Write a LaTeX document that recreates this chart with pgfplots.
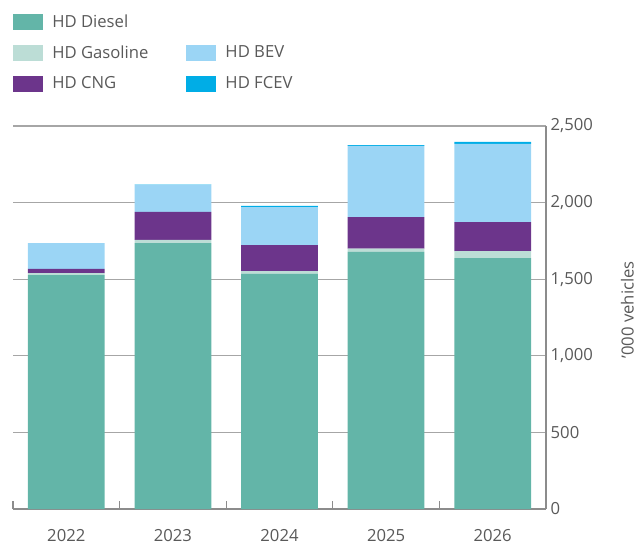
\documentclass[border=0pt]{standalone}
\usepackage{pgfplots}
\pgfplotsset{compat=1.18}
\usepackage{pgfplotstable}
\usepackage{fontspec}
\setmainfont{Open Sans}
\definecolor{diesel}{HTML}{63B5A8}
\definecolor{gasoline}{HTML}{BCDDD6}
\definecolor{cng}{HTML}{6C358B}
\definecolor{bev}{HTML}{9BD5F5}
\definecolor{fcev}{HTML}{00ADE6}
\definecolor{txt}{HTML}{595959}
\definecolor{gridc}{HTML}{A6A6A6}
\definecolor{axc}{HTML}{8C8C8C}

\pgfplotstableread{
x diesel gas cng bev fcev
0 1527 13 27 169 0
1 1736 20 183 176 3
2 1534 19 170 248 7
3 1678 21 207 464 6
4 1638 46 189 510 13
}\data

\pgfplotsset{my swatch/.style={legend image code/.code={\path[draw=none, fill=#1] (0pt,-6pt) rectangle (22.5pt,6pt);}}}

\begin{document}
\begin{tikzpicture}
\begin{axis}[
  scale only axis, width=399.75pt, height=287.25pt,
  ybar stacked, bar width=0.72,
  xmin=-0.5, xmax=4.5, ymin=0, ymax=2500,
  axis x line*=bottom, axis y line*=right,
  axis line style={axc, line width=1pt},
  xtick={0,1,2,3,4}, xticklabels={2022,2023,2024,2025,2026},
  major x tick style={draw=none},
  minor xtick={-0.5,0.5,1.5,2.5,3.5,4.5},
  minor tick length=6pt, tick align=inside,
  minor x tick style={axc, line width=0.8pt},
  ytick={0,500,1000,1500,2000,2500},
  major y tick style={draw=none},
  ymajorgrids, grid style={gridc, line width=1pt},
  ticklabel style={font=\fontsize{12.5}{15}\selectfont, text=txt},
  xticklabel style={yshift=-11.5pt},
  /pgf/number format/assume math mode=true,
  /pgf/number format/1000 sep={,},
  ylabel={’000 vehicles},
  ylabel style={at={(axis description cs:1,0.52)}, anchor=center, yshift=-61pt, font=\fontsize{12.5}{15}\selectfont, text=txt},
  legend style={at={(axis description cs:0,1)}, anchor=north west, yshift=84pt,
    draw=none, fill=none, inner sep=0pt, font=\fontsize{12.5}{15}\selectfont, text=txt,
    row sep=11pt, nodes={inner sep=0pt, anchor=west},
    /tikz/every odd column/.append style={column sep=6.75pt},
    /tikz/every even column/.append style={column sep=28.5pt}},
  legend columns=2, legend cell align=left,
]
\addplot[fill=diesel, draw=none, forget plot] table[x=x,y=diesel]{\data};
\addplot[fill=gasoline, draw=none, forget plot] table[x=x,y=gas]{\data};
\addplot[fill=cng, draw=none, forget plot] table[x=x,y=cng]{\data};
\addplot[fill=bev, draw=none, forget plot] table[x=x,y=bev]{\data};
\addplot[fill=fcev, draw=none, forget plot] table[x=x,y=fcev]{\data};
\addlegendimage{my swatch=diesel}\addlegendentry{HD Diesel}
\addlegendimage{empty legend}\addlegendentry{}
\addlegendimage{my swatch=gasoline}\addlegendentry{HD Gasoline}
\addlegendimage{my swatch=bev}\addlegendentry{HD BEV}
\addlegendimage{my swatch=cng}\addlegendentry{HD CNG}
\addlegendimage{my swatch=fcev}\addlegendentry{HD FCEV}
\end{axis}
\pgfresetboundingbox
\path (-9.75pt,-26.25pt) rectangle (470.25pt,381.75pt);
\end{tikzpicture}
\end{document}
